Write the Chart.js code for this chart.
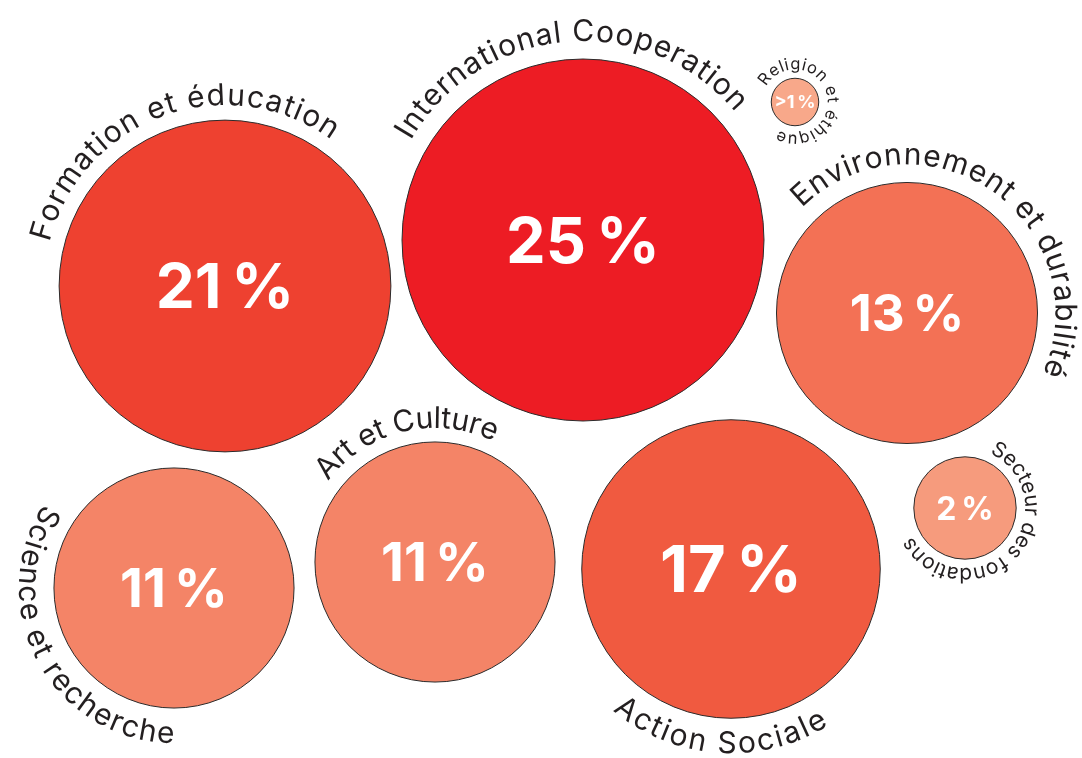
<!DOCTYPE html>
<html>
<head>
<meta charset="utf-8">
<script src="https://cdn.jsdelivr.net/npm/chart.js@4.4.1/dist/chart.umd.min.js"></script>
<style>
  html, body { margin: 0; padding: 0; background: #fff; }
  #wrap { width: 1082px; height: 758px; position: relative; }
</style>
</head>
<body>
<div id="wrap"><canvas id="bubbles"></canvas></div>
<script>
// Share of foundations by field of activity
const categories = [
  'Formation et éducation',
  'International Cooperation',
  'Religion et éthique',
  'Environnement et durabilité',
  'Secteur des fondations',
  'Science et recherche',
  'Art et Culture',
  'Action Sociale',
];
const shares = [21, 25, 0.43, 13, 2, 11, 11, 17];
const shareLabels = ['21\u202F%', '25\u202F%', '>1\u202F%', '13\u202F%', '2\u202F%', '11\u202F%', '11\u202F%', '17\u202F%'];

// where each bubble sits on the page (px-based linear scales)
const centerX = [225, 583, 795, 907, 965, 174, 435, 731];
const centerY = [286, 240, 102, 313, 508, 588, 562, 569];

const colors = [
  '#EE4130', '#ED1C24', '#F8A88A', '#F37155',
  '#F69B7D', '#F48467', '#F48467', '#F05A40',
];

// curved labels: dir 1 = clockwise, -1 = counter clockwise,
// from/to in degrees clockwise from 12 o'clock, gap = circle edge to baseline
const arcLabels = [
  { dir: 1, from: -76, to: 36, gap: 15, size: 30 },
  { dir: 1, from: -60, to: 50, gap: 18, size: 30 },
  { dir: 1, from: -62, to: 210, gap: 9, size: 16.5 },
  { dir: 1, from: -45, to: 114, gap: 18, size: 30 },
  { dir: 1, from: 24, to: 242, gap: 9, size: 21 },
  { dir: -1, from: -57, to: -180, gap: 35, size: 30 },
  { dir: 1, from: -53, to: 26, gap: 14, size: 30 },
  { dir: -1, from: 220, to: 148, gap: 35, size: 30 },
];
const pctSizes = [62, 63, 18, 51, 32, 53, 53, 65];

// bubble area follows the share
const RADIUS_K = 36.2;

const bubbleText = {
  id: 'bubbleText',
  afterDatasetsDraw(chart) {
    const ctx = chart.ctx;
    const meta = chart.getDatasetMeta(0);
    meta.data.forEach((el, i) => {
      const r = el.options.radius;
      ctx.save();

      // percentage in the middle
      ctx.fillStyle = '#fff';
      ctx.font = `700 ${pctSizes[i]}px Inter`;
      ctx.textAlign = 'center';
      ctx.textBaseline = 'alphabetic';
      ctx.fillText(shareLabels[i], el.x, el.y + pctSizes[i] * 0.36);

      // category name along the circle
      const a = arcLabels[i];
      const R = r + a.gap;
      ctx.font = `400 ${a.size}px Inter`;
      ctx.fillStyle = '#231f20';
      const chars = [...categories[i]];
      const widths = chars.map((c) => ctx.measureText(c).width);
      const total = widths.reduce((s, w) => s + w, 0);
      const span = Math.abs(a.to - a.from) * Math.PI / 180 * R;
      const track = (span - total) / (chars.length - 1);
      let t = a.from * Math.PI / 180;
      chars.forEach((c, k) => {
        const mid = t + a.dir * widths[k] / 2 / R;
        ctx.save();
        ctx.translate(el.x, el.y);
        if (a.dir > 0) {
          ctx.rotate(mid);
          ctx.fillText(c, 0, -R);
        } else {
          ctx.rotate(mid + Math.PI);
          ctx.fillText(c, 0, R);
        }
        ctx.restore();
        t += a.dir * (widths[k] + track) / R;
      });

      ctx.restore();
    });
  },
};

const ctx = document.getElementById('bubbles').getContext('2d');
new Chart(ctx, {
  type: 'bubble',
  data: {
    labels: categories,
    datasets: [{
      data: shares.map((v, i) => ({
        x: centerX[i],
        y: centerY[i],
        r: RADIUS_K * Math.sqrt(v),
      })),
      backgroundColor: colors,
      borderColor: '#2b2b2b',
      borderWidth: 1,
      hoverBorderWidth: 1,
      hoverRadius: 0,
      clip: false,
    }],
  },
  options: {
    responsive: true,
    maintainAspectRatio: false,
    animation: false,
    layout: { padding: 0, autoPadding: false },
    events: [],
    plugins: {
      legend: { display: false },
      tooltip: { enabled: false },
    },
    scales: {
      x: { type: 'linear', min: 0, max: 1082, display: false },
      y: { type: 'linear', min: 0, max: 758, reverse: true, display: false },
    },
  },
  plugins: [bubbleText],
});
</script>
</body>
</html>
